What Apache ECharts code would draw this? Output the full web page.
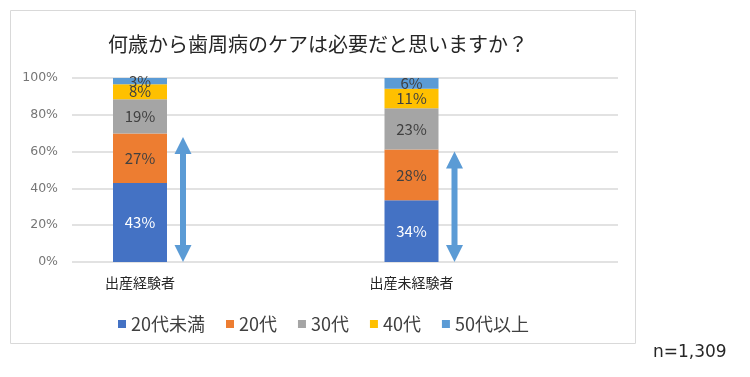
<!DOCTYPE html>
<html>
<head>
<meta charset="utf-8">
<script src="https://cdn.jsdelivr.net/npm/echarts@6/dist/echarts.min.js"></script>
<style>
  html, body { margin: 0; padding: 0; background: #fff; }
  #chart { width: 750px; height: 377px; }
</style>
</head>
<body>
<div id="chart"></div>
<script>
// 何歳から歯周病のケアは必要だと思いますか？
var categories = ['出産経験者', '出産未経験者'];
var seriesNames = ['20代未満', '20代', '30代', '40代', '50代以上'];
var u20 = [42.9, 33.6];
var s20 = [26.9, 27.5];
var s30 = [18.7, 22.5];
var s40 = [8.1, 10.6];
var s50 = [3.4, 5.8];
var arrowTops = [68, 60];
var yTicks = [0, 20, 40, 60, 80, 100];

var colors = ['#4472c4', '#ed7d31', '#a5a5a5', '#ffc000', '#5b9bd5'];
var labelColors = ['#ffffff', '#404040', '#404040', '#404040', '#404040'];
var jp = '"Noto Sans CJK JP", "Noto Sans", sans-serif';

var chart = echarts.init(document.getElementById('chart'));

var allData = [u20, s20, s30, s40, s50];
var barSeries = seriesNames.map(function (name, i) {
    return {
        name: name,
        type: 'bar',
        stack: 'total',
        xAxisIndex: 1,
        yAxisIndex: 1,
        barWidth: 54,
        itemStyle: { color: colors[i] },
        label: {
            show: true,
            position: 'inside',
            color: labelColors[i],
            fontFamily: jp,
            fontSize: 15,
            formatter: function (p) { return Math.round(p.value) + '%'; }
        },
        data: allData[i]
    };
});

// double-headed arrows next to the bars
barSeries.push({
    type: 'custom',
    xAxisIndex: 1,
    yAxisIndex: 1,
    silent: true,
    renderItem: function (params, api) {
        var top = api.coord([api.value(0), api.value(1)]);
        var bot = api.coord([api.value(0), 0]);
        var cx = top[0] + 43, ty = top[1], by = bot[1];
        var h = 17, hw = 8.5, sw = 3;
        return {
            type: 'polygon',
            shape: {
                points: [
                    [cx, ty], [cx + hw, ty + h], [cx + sw, ty + h], [cx + sw, by - h],
                    [cx + hw, by - h], [cx, by], [cx - hw, by - h], [cx - sw, by - h],
                    [cx - sw, ty + h], [cx - hw, ty + h]
                ]
            },
            style: { fill: '#5b9bd5' }
        };
    },
    data: arrowTops.map(function (v, i) { return [i, v]; })
});

var option = {
    animation: false,
    graphic: [
        {
            type: 'rect',
            shape: { x: 10.5, y: 10.5, width: 625, height: 333 },
            style: { fill: 'none', stroke: '#d9d9d9', lineWidth: 1 },
            z: -1
        },
        {
            type: 'text',
            x: 318,
            y: 44,
            style: {
                text: '何歳から歯周病のケアは必要だと思いますか？',
                fontFamily: jp,
                fontSize: 20,
                fill: '#262626',
                textAlign: 'center',
                textVerticalAlign: 'middle'
            }
        },
        {
            type: 'text',
            x: 653,
            y: 353,
            style: {
                text: 'n=1,309',
                fontFamily: '"DejaVu Sans", sans-serif',
                fontSize: 17,
                fill: '#262626',
                textVerticalAlign: 'middle'
            }
        }
    ],
    legend: {
        data: seriesNames,
        top: 310,
        left: 113,
        icon: 'rect',
        itemWidth: 8,
        itemHeight: 8,
        itemGap: 21,
        textStyle: { fontFamily: jp, fontSize: 18, color: '#404040' }
    },
    grid: [
        { left: 72, right: 132, top: 78, bottom: 115 },
        { left: 4.25, width: 543, top: 78, bottom: 115 }
    ],
    xAxis: [
        { type: 'category', gridIndex: 0, data: [''], show: false },
        {
            type: 'category',
            gridIndex: 1,
            data: categories,
            axisLine: { show: false },
            axisTick: { show: false },
            axisLabel: { fontFamily: jp, fontSize: 14, color: '#262626', margin: 14 }
        }
    ],
    yAxis: [
        {
            type: 'value',
            gridIndex: 0,
            min: yTicks[0],
            max: yTicks[yTicks.length - 1],
            interval: 20,
            axisLine: { show: false },
            axisTick: { show: false },
            axisLabel: {
                formatter: '{value}%',
                fontFamily: '"DejaVu Sans", sans-serif',
                fontSize: 12.5,
                color: '#767676',
                margin: 14
            },
            splitLine: { lineStyle: { color: '#d9d9d9', width: 1.5 } }
        },
        {
            type: 'value',
            gridIndex: 1,
            min: 0,
            max: 100,
            show: false
        }
    ],
    series: barSeries
};

chart.setOption(option);
</script>
</body>
</html>
